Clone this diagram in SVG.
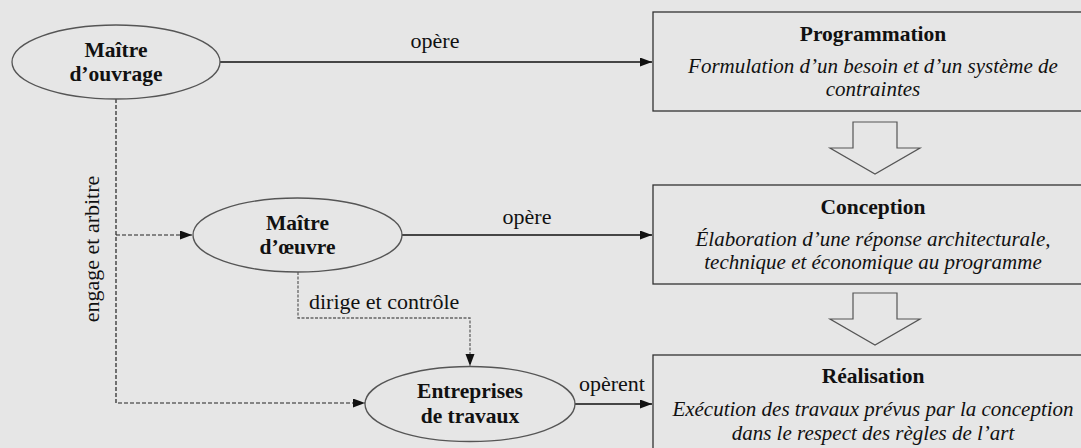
<svg xmlns="http://www.w3.org/2000/svg" width="1081" height="448" viewBox="0 0 1081 448">
<style>
.bg{fill:#e6e6e6}
.ell{fill:#e6e6e6;stroke:#555;stroke-width:1.3}
.box{fill:#e6e6e6;stroke:#333;stroke-width:1.3}
.blk{fill:#e6e6e6;stroke:#555;stroke-width:1.2}
.solid{fill:none;stroke:#111;stroke-width:1.3}
.dash{fill:none;stroke:#222;stroke-width:1.2;stroke-dasharray:4 2}
.dash2{fill:none;stroke:#666;stroke-width:1.3;stroke-dasharray:3 1.5}
text{font-family:"Liberation Serif","Times New Roman",serif;fill:#111}
.b{font-weight:bold;font-size:21.5px;text-anchor:middle}
.i{font-style:italic;font-size:21px;text-anchor:middle}
.l{font-size:22px}
</style>
<defs>
<marker id="ah" markerUnits="userSpaceOnUse" markerWidth="13" markerHeight="10" refX="12" refY="4.5" orient="auto">
<path d="M0,0 L12,4.5 L0,9 z" fill="#111"/>
</marker>
</defs>
<rect class="bg" x="0" y="0" width="1081" height="448"/>

<g id="connectors">
<line class="solid" x1="220" y1="62" x2="652" y2="62" marker-end="url(#ah)"/>
<text class="l" x="435" y="48" text-anchor="middle">opère</text>
<line class="solid" x1="402" y1="235" x2="652" y2="235" marker-end="url(#ah)"/>
<text class="l" x="527" y="224" text-anchor="middle">opère</text>
<line class="solid" x1="575" y1="404" x2="652" y2="404" marker-end="url(#ah)"/>
<text class="l" x="579" y="391">opèrent</text>
<path class="dash" d="M116,99 V403 H365" marker-end="url(#ah)"/>
<path class="dash" d="M116,235 H192" marker-end="url(#ah)"/>
<text class="l" transform="translate(99,249) rotate(-90)" text-anchor="middle">engage et arbitre</text>
<path class="dash2" d="M298,272 V318 H470 V366" marker-end="url(#ah)"/>
<text class="l" x="309" y="309">dirige et contrôle</text>
<polygon class="blk" points="853,122 897,122 897,148 920,148 875,174 830,148 853,148"/>
<polygon class="blk" points="853,293 897,293 897,319 920,319 875,345 830,319 853,319"/>
</g>

<g id="maitre-ouvrage">
<ellipse class="ell" cx="116" cy="62" rx="104" ry="37"/>
<text class="b" x="116" y="57">Maître</text>
<text class="b" x="116" y="81">d’ouvrage</text>
</g>

<g id="maitre-oeuvre">
<ellipse class="ell" cx="297.5" cy="235" rx="104.5" ry="37"/>
<text class="b" x="297.5" y="230">Maître</text>
<text class="b" x="297.5" y="254">d’œuvre</text>
</g>

<g id="entreprises">
<ellipse class="ell" cx="470" cy="404" rx="105" ry="37.5"/>
<text class="b" x="470" y="398">Entreprises</text>
<text class="b" x="470" y="423">de travaux</text>
</g>

<g id="programmation">
<rect class="box" x="653" y="12" width="440" height="99"/>
<text class="b" x="873" y="41">Programmation</text>
<text class="i" x="873" y="73">Formulation d’un besoin et d’un système de</text>
<text class="i" x="873" y="96">contraintes</text>
</g>

<g id="conception">
<rect class="box" x="653" y="185" width="440" height="99"/>
<text class="b" x="873" y="214">Conception</text>
<text class="i" x="873" y="246">Élaboration d’une réponse architecturale,</text>
<text class="i" x="873" y="269">technique et économique au programme</text>
</g>

<g id="realisation">
<rect class="box" x="653" y="355" width="440" height="110"/>
<text class="b" x="873" y="383">Réalisation</text>
<text class="i" x="873" y="416">Exécution des travaux prévus par la conception</text>
<text class="i" x="873" y="440">dans le respect des règles de l’art</text>
</g>
</svg>
